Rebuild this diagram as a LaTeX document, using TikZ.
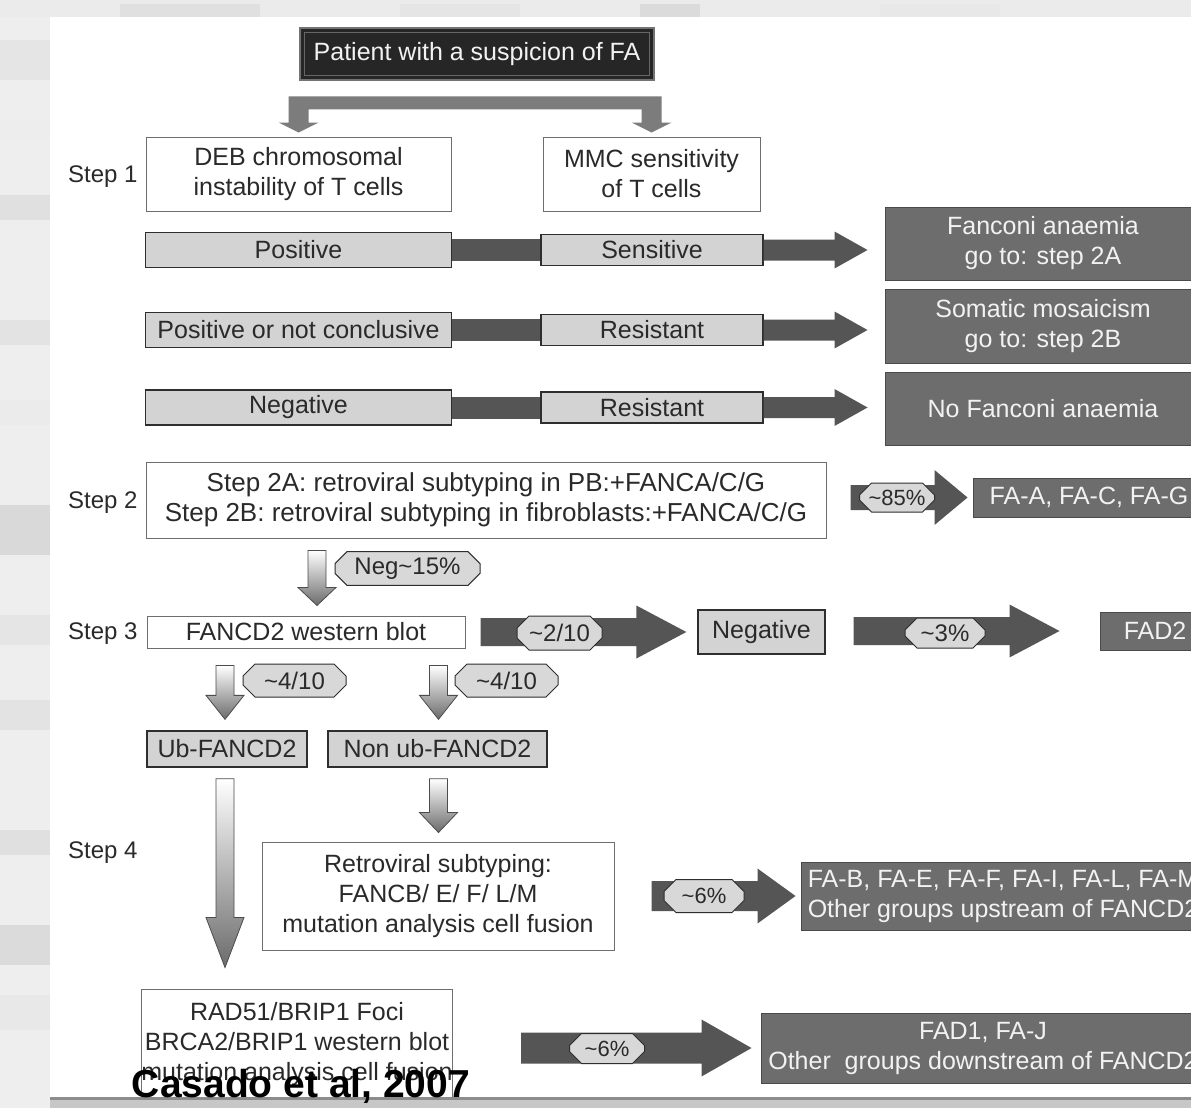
\documentclass[tikz,border=0pt]{standalone}
\usepackage{fontspec}
\setmainfont{Liberation Sans}
\usepackage{tikz}
\usetikzlibrary{calc, shapes.misc}
\definecolor{outerbg}{HTML}{EEEEEE}
\definecolor{textdark}{HTML}{2A2A2A}
\definecolor{boxline}{HTML}{6E6E6E}
\definecolor{greyfill}{HTML}{D3D3D3}
\definecolor{greyline}{HTML}{2E2E2E}
\definecolor{tagfill}{HTML}{D8D8D8}
\definecolor{arrdark}{HTML}{555555}
\definecolor{splitgray}{HTML}{7C7C7C}
\definecolor{resfill}{HTML}{6D6D6D}
\definecolor{resline}{HTML}{4A4A4A}
\definecolor{restext}{HTML}{F2F2F2}
\definecolor{patfill}{HTML}{262626}
% block arrow pointing right: start, tip, half shaft, half head, head length
\newcommand{\rblock}[5]{%
  \fill[arrdark] let \p1=#1, \p2=#2 in
    (\x1,\y2+#3) -- (\x2-#5,\y2+#3) -- (\x2-#5,\y2+#4) -- (\x2,\y2)
    -- (\x2-#5,\y2-#4) -- (\x2-#5,\y2-#3) -- (\x1,\y2-#3) -- cycle;}
% shaded block arrow pointing down: top, tip, head length
\newcommand{\dblock}[3]{%
  \path[shadearrow] let \p1=#1, \p2=#2 in
    (\x1-9pt,\y1) -- (\x1+9pt,\y1) -- (\x1+9pt,\y2+#3) -- (\x1+19pt,\y2+#3)
    -- (\x1,\y2) -- (\x1-19pt,\y2+#3) -- (\x1-9pt,\y2+#3) -- cycle;}

\begin{document}
\begin{tikzpicture}[x=1pt, y=-1pt,
    every node/.style={font=\fontsize{25}{30}\selectfont, text=textdark, inner sep=0pt},
    whitebox/.style={draw=boxline, fill=white, line width=1pt, align=center},
    greybox/.style={draw=greyline, fill=greyfill, line width=1.3pt, align=center},
    resbox/.style={draw=resline, fill=resfill, line width=1pt, text=restext, align=center},
    patientbox/.style={fill=patfill, draw=black!55, line width=2.5pt, text=restext,
      minimum width=354pt, minimum height=52pt},
    tag/.style={chamfered rectangle, chamfered rectangle xsep=6pt, chamfered rectangle ysep=6pt,
      draw=greyline, fill=tagfill, line width=1pt, font=\fontsize{24}{28}\selectfont},
    smalltag/.style={tag, font=\fontsize{22}{26}\selectfont},
    steplabel/.style={anchor=west, font=\fontsize{24}{28}\selectfont},
    shadearrow/.style={top color=white, bottom color=black!58, draw=black!70, line width=0.8pt},
  ]
  \useasboundingbox (0,0) rectangle (1191,1108);
  \clip (0,0) rectangle (1191,1108);
  % page background
  \fill[outerbg] (0,0) rectangle (1191,1108);
  \fill[black!8] (0,0) rectangle (1191,17);
  \foreach \xa/\xb/\g in {120/260/12, 400/520/10, 640/700/14, 880/1000/9} {
    \fill[black!\g] (\xa,4) rectangle (\xb,17);
  }
  \foreach \ya/\yb/\g in {40/80/10, 120/140/7, 195/220/12, 320/345/11, 400/425/8, 505/555/15, 615/645/10, 700/730/11, 830/855/12, 925/965/14, 995/1030/9} {
    \fill[black!\g] (0,\ya) rectangle (50,\yb);
  }
  \fill[white] (50,17) rectangle (1191,1097);

  % top
  \node[patientbox] (patient) at (477,54) {Patient with a suspicion of FA};
  \draw[black!60, line width=0.8pt] ($(patient.south west)+(6,-6)$) rectangle ($(patient.north east)+(-6,6)$);

  % step 1
  \node[whitebox, minimum width=305pt, minimum height=74pt] (deb) at (298.5,174) {DEB chromosomal\\instability of T cells};
  \node[whitebox, minimum width=217pt, minimum height=74pt] (mmc) at (651.5,174) {MMC sensitivity\\of T cells};
  \foreach \r/\y/\ta/\tb in {1/250/Positive/Sensitive, 2/330/Positive or not conclusive/Resistant, 3/407.5/Negative/Resistant} {
    \node[greybox, minimum width=306pt, minimum height=35pt] (lft\r) at (298.5,\y) {\ta};
    \node[greybox, minimum width=222pt, minimum height=31pt] (mid\r) at (652,\y) {\tb};
  }
  \node[resbox, minimum width=316pt, minimum height=73pt] (res1) at (1043,243.5) {Fanconi anaemia\\go to: step 2A};
  \node[resbox, minimum width=316pt, minimum height=74pt] (res2) at (1043,326) {Somatic mosaicism\\go to: step 2B};
  \node[resbox, minimum width=316pt, minimum height=73pt] (res3) at (1043,408.5) {No Fanconi anaemia};

  % step 2
  \node[whitebox, minimum width=680pt, minimum height=76pt, font=\fontsize{26}{30}\selectfont] (step2) at (486,500) {Step 2A: retroviral subtyping in PB:+FANCA/C/G\\Step 2B: retroviral subtyping in fibroblasts:+FANCA/C/G};
  \node[resbox, minimum width=232pt, minimum height=39pt] (fgrp) at (1089,497.5) {FA-A, FA-C, FA-G};

  % step 3
  \node[whitebox, minimum width=318pt, minimum height=32pt] (fancd) at (306,632) {FANCD2 western blot};
  \node[greybox, minimum width=127pt, minimum height=44pt] (negb) at (761.5,632) {Negative};
  \node[resbox, minimum width=110pt, minimum height=38pt] (fad2) at (1155,631) {FAD2};
  \node[greybox, minimum width=160pt, minimum height=36pt] (ub) at (227,749) {Ub-FANCD2};
  \node[greybox, minimum width=219pt, minimum height=36pt] (nonub) at (437.5,749) {Non ub-FANCD2};

  % step 4
  \node[whitebox, minimum width=352pt, minimum height=108pt] (retro) at (438,896) {Retroviral subtyping:\\FANCB/ E/ F/ L/M\\mutation analysis cell fusion};
  \node[resbox, minimum width=404pt, minimum height=68pt] (fagrp) at (1003,896) {FA-B, FA-E, FA-F, FA-I, FA-L, FA-M\\Other groups upstream of FANCD2};
  \node[whitebox, minimum width=300pt, minimum height=111pt] (rad) at (297,1044.5) {RAD51/BRIP1 Foci\\BRCA2/BRIP1 western blot\\mutation analysis cell fusion};
  \node[resbox, minimum width=444pt, minimum height=70pt] (fad1) at (983,1048) {FAD1, FA-J\\Other~ groups downstream of FANCD2};

  % step labels
  \foreach \s/\y in {1/177, 2/503, 3/634, 4/853} {
    \node[steplabel] (lbl\s) at (68,\y) {Step \s};
  }

  % split arrow under the patient box
  \fill[splitgray] let \p1=(deb.north), \p2=(mmc.north), \p3=(patient.south) in
    (\x1-10pt,\y1+14pt) -- (\x1-20pt,\y1+14pt) -- (\x1,\y1+4pt) -- (\x1+20pt,\y1+14pt)
    -- (\x1+10pt,\y1+14pt) -- (\x1+10pt,\y3-28pt) -- (\x2-10pt,\y3-28pt) -- (\x2-10pt,\y2+14pt)
    -- (\x2-20pt,\y2+14pt) -- (\x2,\y2+4pt) -- (\x2+20pt,\y2+14pt) -- (\x2+10pt,\y2+14pt)
    -- (\x2+10pt,\y3-15pt) -- (\x1-10pt,\y3-15pt) -- cycle;

  % step 1 rows
  \foreach \r in {1,2,3} {
    \draw[arrdark, line width=22pt] (lft\r.east) -- (lft\r.east -| mid\r.west);
    \rblock{(mid\r.east)}{($(mid\r.east -| res\r.west)+(-17,0)$)}{10.5pt}{18.5pt}{33pt}
  }

  % right arrows
  \rblock{($(step2.east)+(24,0)$)}{($(fgrp.west)+(-5,0)$)}{12.5pt}{27.5pt}{33pt}
  \rblock{($(fancd.east)+(15,0)$)}{($(negb.west)+(-11,0)$)}{14pt}{26.5pt}{50pt}
  \rblock{($(negb.east)+(28,0)$)}{($(fad2.west)+(-40,0)$)}{14pt}{26.5pt}{50pt}
  \rblock{($(retro.east)+(37,0)$)}{($(fagrp.west)+(-5,0)$)}{15pt}{27.5pt}{38pt}
  \rblock{($(rad.east)+(68,0)$)}{($(fad1.west)+(-9,0)$)}{15.5pt}{28.5pt}{50pt}

  % down arrows
  \dblock{($(step2.south -| fancd.north)+(11,12)$)}{($(fancd.north)+(11,-10)$)}{18pt}
  \dblock{($(fancd.south -| ub.north)+(-2,17)$)}{($(ub.north)+(-2,-11)$)}{24pt}
  \dblock{($(fancd.south -| nonub.north)+(1,17)$)}{($(nonub.north)+(1,-11)$)}{24pt}
  \dblock{($(ub.south)+(-2,11)$)}{($(rad.north -| ub.south)+(-2,-21)$)}{50pt}
  \dblock{($(nonub.south)+(1,11)$)}{($(retro.north -| nonub.south)+(1,-9)$)}{20pt}

  % percentages
  \node[tag, minimum width=145pt, minimum height=33pt] (t15) at (407.5,568.5) {Neg\textasciitilde15\%};
  \node[tag, minimum width=103pt, minimum height=33pt] (t4a) at (294.5,680.5) {\textasciitilde4/10};
  \node[tag, minimum width=103pt, minimum height=33pt] (t4b) at (506.5,680.5) {\textasciitilde4/10};
  \node[tag, minimum width=85pt, minimum height=34pt] (t2) at (559.5,633) {\textasciitilde2/10};
  \node[smalltag, minimum width=75pt, minimum height=29pt] (t85) at (897,497.5) {\textasciitilde85\%};
  \node[tag, minimum width=80pt, minimum height=30pt] (t3) at (945,633) {\textasciitilde3\%};
  \node[smalltag, minimum width=80pt, minimum height=33pt] (t6a) at (704,896) {\textasciitilde6\%};
  \node[smalltag, minimum width=75pt, minimum height=30pt] (t6b) at (607,1048.5) {\textasciitilde6\%};

  % bottom edge and source
  \fill[black!45] (50,1097) rectangle (1191,1100);
  \fill[black!22] (50,1100) rectangle (1191,1108);
  \node[font=\fontsize{39}{42}\selectfont\bfseries, text=black] (cite) at (301,1086) {Casado et al, 2007};
\end{tikzpicture}
\end{document}
